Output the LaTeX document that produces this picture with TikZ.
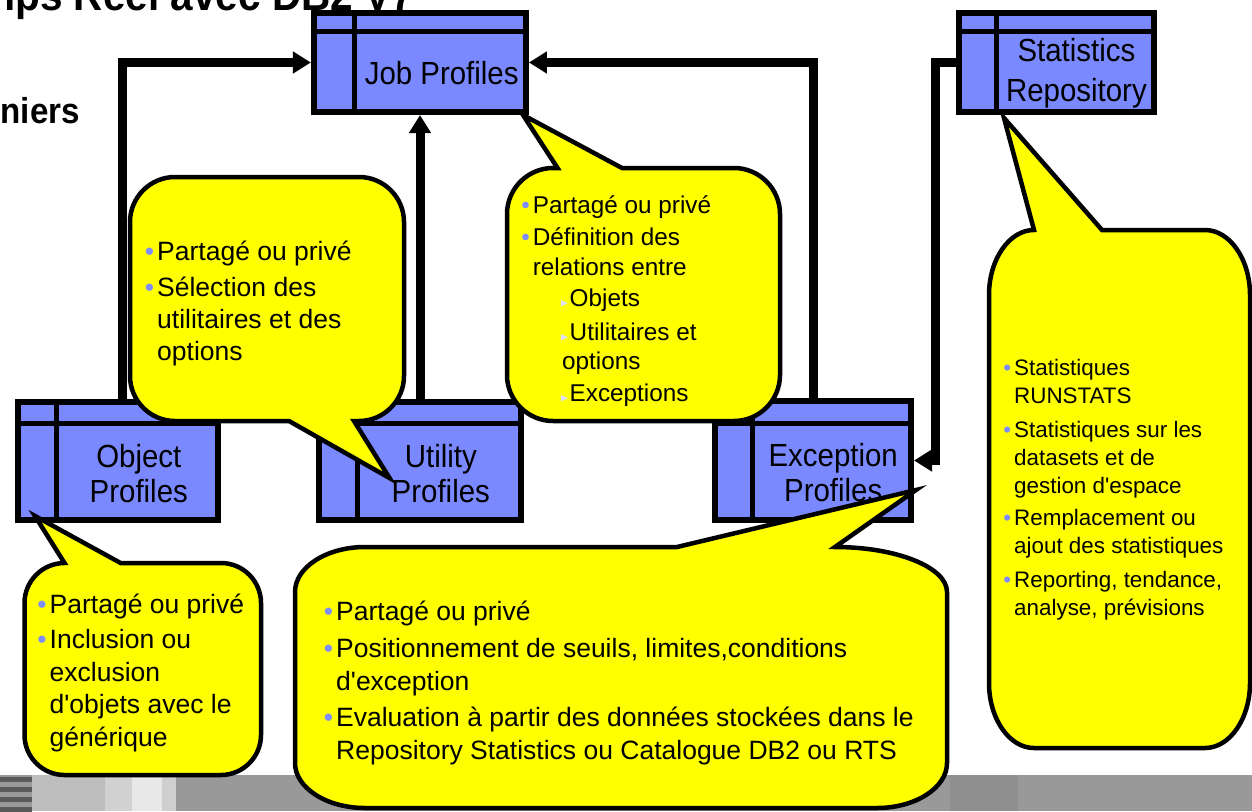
\documentclass[tikz,border=0pt]{standalone}
\usepackage{fontspec}
\setmainfont{Liberation Sans}
\newfontfamily\labelfont{Liberation Sans}[FakeStretch=0.92]
\usepackage{amssymb}
\usetikzlibrary{arrows.meta,calc}

\definecolor{tableblue}{RGB}{122,137,255}
\definecolor{bubbleyellow}{RGB}{255,255,0}
\definecolor{bulletblue}{RGB}{125,140,255}
\definecolor{subbulletpale}{RGB}{222,226,255}

\newcommand{\bul}{\llap{\textcolor{bulletblue}{•}\hspace{3pt}}}
\newcommand{\subbul}{\makebox[9.5pt][l]{\textcolor{subbulletpale}{\fontsize{11}{11}\selectfont$\blacktriangleright$}}}

% table icon: header row, left column, label in the lower right pane
\newcommand{\profiletable}[3][]{%
  \draw[line width=5pt] ($(#2.north west)!0.2!(#2.south west)$) -- ($(#2.north east)!0.2!(#2.south east)$);
  \draw[line width=5pt] ($(#2.north west)!0.2!(#2.north east)$) -- ($(#2.south west)!0.2!(#2.south east)$);
  \coordinate (#2-x) at ($(#2.north west)!0.6!(#2.north east)$);
  \coordinate (#2-y) at ($(#2.north west)!0.6!(#2.south west)$);
  \node[tablelabel,#1] (#2-label) at (#2-x |- #2-y) {#3};
}

\tikzset{
  tablebox/.style={draw=black, line width=6pt, fill=tableblue, inner sep=0pt},
  tablelabel/.style={align=center, inner sep=0pt, font=\labelfont\fontsize{32}{35}\selectfont},
  flow/.style={line width=9pt, -{Triangle[length=18pt,width=21pt]}},
  bubble/.style={draw=black, line width=4.5pt, fill=bubbleyellow},
  notetext/.style={anchor=north west, align=left, inner sep=0pt},
}

\begin{document}
\begin{tikzpicture}[x=1pt, y=-1pt]
\useasboundingbox (0,0) rectangle (1252,811);
\clip (0,0) rectangle (1252,811);

% footer band of the slide
\fill[black!40] (0,775) rectangle (32,811);
\foreach \y in {777,787,797,807}
  \fill[black!65] (0,\y) rectangle (32,\y+5);
\fill[black!26] (32,775) rectangle (105,811);
\fill[black!18] (105,775) rectangle (132,811);
\fill[black!9] (132,775) rectangle (162,811);
\fill[black!19] (162,775) rectangle (176,811);
\fill[black!40] (176,775) rectangle (1252,811);
\fill[black!44] (950,775) rectangle (1018,811);

% title fragments
\node[font=\labelfont\bfseries\fontsize{44}{44}\selectfont, anchor=base east, inner sep=0pt] (title) at (414,10) {Temps Réel avec DB2 V7};
\node[font=\labelfont\bfseries\fontsize{36}{36}\selectfont, anchor=base east, inner sep=0pt] (subtitle) at (80,123) {niers};

% profile tables
\node[tablebox, minimum width=212, minimum height=99] (job) at (419.9,62.5) {};
\node[tablebox, minimum width=195, minimum height=99] (stats) at (1056.3,62.5) {};
\node[tablebox, minimum width=200, minimum height=118] (obj) at (118.2,461) {};
\node[tablebox, minimum width=202, minimum height=118] (util) at (420,461) {};
\node[tablebox, minimum width=196, minimum height=119] (exc) at (813,460.5) {};
\profiletable{job}{Job Profiles}
\profiletable[font=\labelfont\fontsize{32}{40}\selectfont]{stats}{Statistics\\Repository}
\profiletable{obj}{Object\\Profiles}
\profiletable{util}{Utility\\Profiles}
\profiletable{exc}{Exception\\Profiles}

% links
\draw[flow] ([xshift=4pt]obj.north) |- (job.west);
\draw[flow] (util.north) -- (util.north |- job.south);
\draw[flow] (exc.north) |- (job.east);
\draw[flow] (stats.west) -- ++(-20pt,0) |- (exc.east);

% callouts
\draw[bubble] (130,222) .. controls +(0,-24.75) and +(-24.75,0) .. (175,177) -- (359,177)
  .. controls +(24.75,0) and +(0,-24.75) .. (404,222) -- (404,376)
  .. controls +(0,24.75) and +(24.75,0) .. (359,421) -- (354,421) -- (389.5,478) -- (289,421) -- (175,421)
  .. controls +(-24.75,0) and +(0,24.75) .. (130,376) -- cycle;
\node[notetext, font=\fontsize{26.5}{32}\selectfont] (utilnote) at (157,237.6) {%
  \strut\bul Partagé ou privé\\[4pt]
  \bul Sélection des\\
  utilitaires et des\\
  options};

\draw[bubble] (507,214) .. controls +(0,-25.3) and +(-25.3,0) .. (553,168) -- (557.5,168) -- (523,115) -- (622,168) -- (734,168)
  .. controls +(25.3,0) and +(0,-25.3) .. (780,214) -- (780,375)
  .. controls +(0,25.3) and +(25.3,0) .. (734,421) -- (553,421)
  .. controls +(-25.3,0) and +(0,25.3) .. (507,375) -- cycle;
\node[notetext, font=\fontsize{24.3}{29.5}\selectfont] (jobnote) at (532.6,192.5) {%
  \strut\bul Partagé ou privé\\[3pt]
  \bul Définition des\\
  relations entre\\[2pt]
  \hspace*{27.4pt}\subbul Objets\\[4pt]
  \hspace*{27.4pt}\subbul Utilitaires et\\
  \hspace*{29.4pt}options\\[2.5pt]
  \hspace*{27.4pt}\subbul Exceptions};

\draw[bubble] (989,295) .. controls +(0,-35.75) and +(-24.75,0) .. (1034,230) -- (1004,118) -- (1102,230) -- (1205,230)
  .. controls +(24.75,0) and +(0,-35.75) .. (1250,295) -- (1250,683)
  .. controls +(0,35.75) and +(24.75,0) .. (1205,748) -- (1034,748)
  .. controls +(-24.75,0) and +(0,35.75) .. (989,683) -- cycle;
\node[notetext, font=\fontsize{22.4}{28}\selectfont] (statsnote) at (1014,356) {%
  \strut\bul Statistiques\\
  RUNSTATS\\[5.5pt]
  \bul Statistiques sur les\\
  datasets et de\\
  gestion d\textquotesingle espace\\[4.5pt]
  \bul Remplacement ou\\
  ajout des statistiques\\[5.5pt]
  \bul Reporting, tendance,\\
  analyse, prévisions};

\draw[bubble] (24.5,603) .. controls +(0,-22) and +(-22,0) .. (64.5,563) -- (35,516) -- (120.6,563) -- (221,563)
  .. controls +(22,0) and +(0,-22) .. (261,603) -- (261,735)
  .. controls +(0,22) and +(22,0) .. (221,775) -- (64.5,775)
  .. controls +(-22,0) and +(0,22) .. (24.5,735) -- cycle;
\node[notetext, font=\fontsize{26.5}{32.5}\selectfont] (objnote) at (49.5,590.3) {%
  \strut\bul Partagé ou privé\\[3pt]
  \bul Inclusion ou\\
  exclusion\\
  d\textquotesingle objets avec le\\
  générique};

\draw[bubble] (295,592) .. controls +(0,-24.75) and +(-38.5,0) .. (365,547) -- (677,547) -- (916,490) -- (835,547)
  .. controls +(61.6,0) and +(0,-24.75) .. (947,592) -- (947,763)
  .. controls +(0,24.75) and +(38.5,0) .. (877,808) -- (365,808)
  .. controls +(-38.5,0) and +(0,24.75) .. (295,763) -- cycle;
\node[notetext, font=\fontsize{26.5}{32.5}\selectfont] (excnote) at (336,597.4) {%
  \strut\bul Partagé ou privé\\[5pt]
  \bul Positionnement de seuils, limites,conditions\\
  d\textquotesingle exception\\[4pt]
  \bul Evaluation à partir des données stockées dans le\\
  Repository Statistics ou Catalogue DB2 ou RTS};
\end{tikzpicture}
\end{document}
